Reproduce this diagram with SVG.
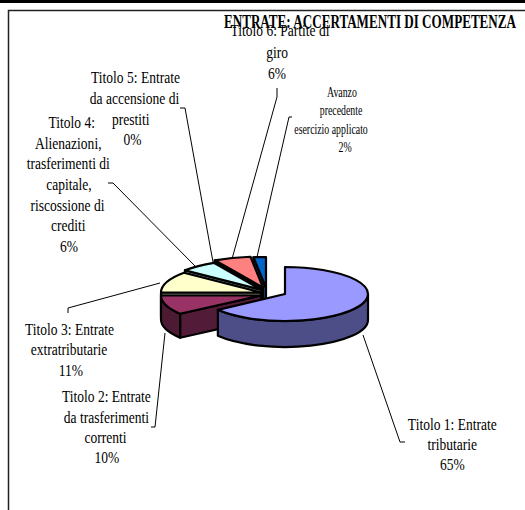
<svg xmlns="http://www.w3.org/2000/svg" width="525" height="510" viewBox="0 0 525 510">
<style>
.pie path{stroke:#000;stroke-width:2.2;stroke-linejoin:round}
.lbl{font-family:"Liberation Serif","Times New Roman",serif;font-size:16.5px;fill:#000;text-anchor:middle}
.sm{font-size:14.5px}
.ttl{font-family:"Liberation Serif","Times New Roman",serif;font-size:19px;font-weight:bold;fill:#000;text-anchor:middle}
.lead{fill:none;stroke:#000;stroke-width:1}
</style>
<rect x="0" y="0" width="525" height="510" fill="#fff"/>
<rect x="0" y="0" width="525" height="3" fill="#000"/>
<path d="M8.5,510 L8.5,10.5 L525,10.5" fill="none" stroke="#222" stroke-width="1.5"/>

<g id="slice-avanzo" class="pie">
<path d="M266,288 L253.47,257.24 L253.47,281.24 L266,312 Z" fill="#00509f"/>
<path d="M266,288 L253.47,257.24 A100 31 0 0 1 266,257 Z" fill="#0066cc"/>
</g>
<g id="slice-t6" class="pie">
<path d="M263,287.5 L214.82,260.33 L214.82,284.33 L263,311.5 Z" fill="#804040"/>
<path d="M263,287.5 L214.82,260.33 A100 31 0 0 1 250.47,256.74 Z" fill="#ff8080"/>
</g>
<g id="slice-t5" class="pie">
<path d="M263,288.5 L214.82,261.33 L214.82,285.33 L263,312.5 Z" fill="#4d004d"/>
</g>
<g id="slice-t4" class="pie">
<path d="M262,290 L184.95,270.24 L184.95,294.24 L262,314 Z" fill="#668080"/>
<path d="M262,290 L184.95,270.24 A100 31 0 0 1 213.82,262.83 Z" fill="#ccffff"/>
</g>
<g id="slice-t3" class="pie">
<path d="M261,292.5 L161,292.5 L161,316.5 L261,316.5 Z" fill="#808066"/>
<path d="M261,292.5 L161,292.5 A100 31 0 0 1 183.95,272.74 Z" fill="#ffffcc"/>
</g>
<g id="slice-t2" class="pie">
<path d="M261,295.5 L180.1,313.7 L180.1,337.7 L261,319.5 Z" fill="#521c38"/>
<path d="M180.1,313.7 A100 31 0 0 1 161,295.5 L161,319.5 A100 31 0 0 0 180.1,337.7 Z" fill="#4d1a33"/>
<path d="M261,295.5 L180.1,313.7 A100 31 0 0 1 161,295.5 Z" fill="#993366"/>
</g>
<g id="slice-t1" class="pie">
<path d="M368,294 A83 27 0 0 1 217.85,309.87 L217.85,335.87 A83 27 0 0 0 368,320 Z" fill="#4d4d88"/>
<path d="M285,294 L285,267 A83 27 0 1 1 217.85,309.87 Z" fill="#9999ff"/>
</g>

<g id="connectors">
<path class="lead" d="M363,335 L400,442 L405,442"/>
<path class="lead" d="M165,333 L155,427 L151,427"/>
<path class="lead" d="M160,283 L68,308 L68,313"/>
<path class="lead" d="M195,266 L113,183 L108,183"/>
<path class="lead" d="M213,262 L185,108 L180,108"/>
<path class="lead" d="M232,259 L277,97 L277,88"/>
<path class="lead" d="M257,257 L289,117 L292,117"/>
</g>

<g id="title" transform="translate(370,28) scale(0.69,1)">
<text class="ttl" x="0" y="0">ENTRATE: ACCERTAMENTI DI COMPETENZA</text>
</g>
<g id="label-t1" transform="translate(452.3,0) scale(0.82,1)">
<text class="lbl"><tspan x="0" y="430.5">Titolo 1: Entrate</tspan><tspan x="0" y="450.5">tributarie</tspan><tspan x="0" y="470.5">65%</tspan></text>
</g>
<g id="label-t2" transform="translate(106.4,0) scale(0.82,1)">
<text class="lbl"><tspan x="0" y="402">Titolo 2: Entrate</tspan><tspan x="0" y="423">da trasferimenti</tspan><tspan x="-1" y="443">correnti</tspan><tspan x="0.7" y="463.5">10%</tspan></text>
</g>
<g id="label-t3" transform="translate(69.5,0) scale(0.82,1)">
<text class="lbl"><tspan x="0" y="335">Titolo 3: Entrate</tspan><tspan x="-0.6" y="355.5">extratributarie</tspan><tspan x="1.8" y="376">11%</tspan></text>
</g>
<g id="label-t4" transform="translate(68.3,0) scale(0.82,1)">
<text class="lbl"><tspan x="4.1" y="128.3">Titolo 4:</tspan><tspan x="0" y="148.9">Alienazioni,</tspan><tspan x="0" y="169.5">trasferimenti di</tspan><tspan x="0.8" y="190">capitale,</tspan><tspan x="-1" y="210.6">riscossione di</tspan><tspan x="0" y="231.2">crediti</tspan><tspan x="0.8" y="251.8">6%</tspan></text>
</g>
<g id="label-t5" transform="translate(134,0) scale(0.82,1)">
<text class="lbl"><tspan x="1.8" y="83">Titolo 5: Entrate</tspan><tspan x="0.6" y="104.5">da accensione di</tspan><tspan x="-3.9" y="125">prestiti</tspan><tspan x="-1.8" y="145.5">0%</tspan></text>
</g>
<g id="label-t6" transform="translate(278,0) scale(0.82,1)">
<text class="lbl"><tspan x="2.4" y="36">Titolo 6: Partite di</tspan><tspan x="-1.2" y="58">giro</tspan><tspan x="-1.2" y="79.5">6%</tspan></text>
</g>
<g id="label-avanzo" transform="translate(340,0) scale(0.68,1)">
<text class="lbl sm"><tspan x="2.9" y="97">Avanzo</tspan><tspan x="1.5" y="115.5">precedente</tspan><tspan x="-13.2" y="134">esercizio applicato</tspan><tspan x="7.4" y="152.5">2%</tspan></text>
</g>
</svg>
